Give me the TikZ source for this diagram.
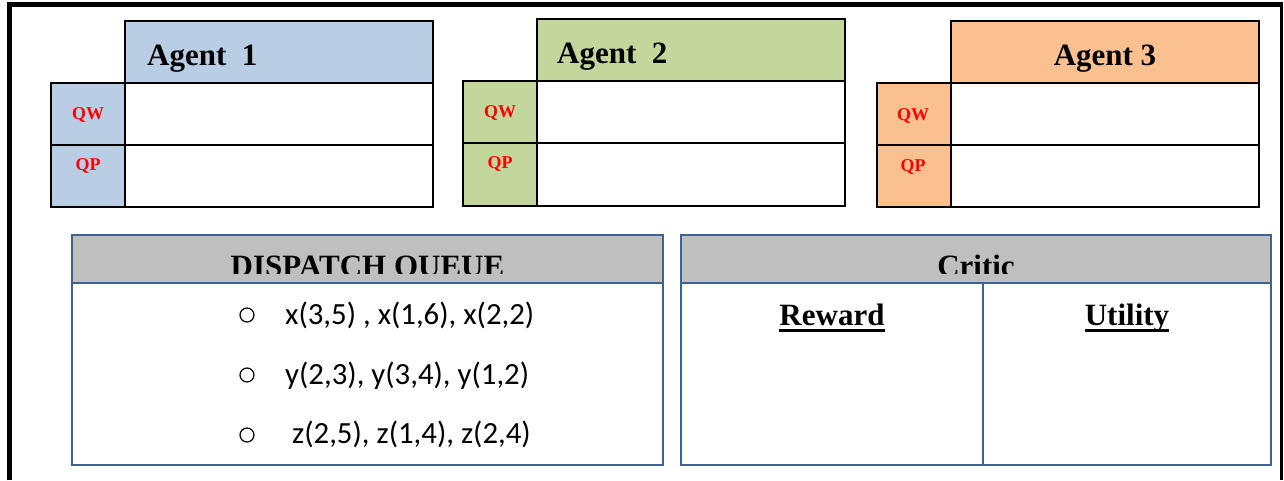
\documentclass[tikz,border=0pt]{standalone}
\usepackage{fontspec}
\setmainfont{Liberation Serif}
\newfontfamily\itemfont{Carlito}
\definecolor{agentblue}{RGB}{185,205,229}
\definecolor{agentgreen}{RGB}{195,214,155}
\definecolor{agentorange}{RGB}{250,192,144}
\definecolor{headgray}{RGB}{191,191,191}
\definecolor{panelblue}{RGB}{62,98,146}
\begin{document}
\begin{tikzpicture}[x=1pt,y=-1pt,
  cell/.style={draw=black,line width=1.8pt},
  panel/.style={draw=panelblue,line width=2pt},
  agenttitle/.style={font=\fontsize{31}{31}\selectfont\bfseries,inner sep=0pt},
  qlabel/.style={font=\fontsize{18}{18}\selectfont\bfseries,text=red,inner sep=0pt},
  headtitle/.style={font=\fontsize{31}{31}\selectfont\bfseries,inner sep=0pt},
  coltitle/.style={font=\fontsize{31}{31}\selectfont\bfseries,inner sep=0pt},
  itemtext/.style={font=\itemfont\fontsize{30.8}{30.8}\selectfont,inner sep=0pt,anchor=base west},
  bullet/.style={draw=black,line width=1.2pt},
  underbar/.style={line width=3.4pt}]
\useasboundingbox (0,0) rectangle (1284,480);
\fill[white] (0,0) rectangle (1284,480);

% outer frame (open at the bottom)
\draw[line width=5pt] (9.5,480) -- (9.5,4.5) -- (1282,4.5);
\draw[line width=2.2pt] (1281.5,2) -- (1281.5,480);

% ---- Agent 1 ----
\filldraw[cell,fill=agentblue] (125,21) rectangle (433,83);
\filldraw[cell,fill=agentblue] (51,83) rectangle (125,207);
\draw[cell] (125,83) rectangle (433,207);
\draw[cell] (51,145) -- (433,145);
\node[agenttitle,anchor=base west] (a1) at (147,65) {Agent\ \ 1};
\node[qlabel] (a1qw) at (88,115) {QW};
\node[qlabel] (a1qp) at (88,166) {QP};

% ---- Agent 2 ----
\filldraw[cell,fill=agentgreen] (537,19) rectangle (845,81);
\filldraw[cell,fill=agentgreen] (463,81) rectangle (537,206);
\draw[cell] (537,81) rectangle (845,206);
\draw[cell] (463,143) -- (845,143);
\node[agenttitle,anchor=base west] (a2) at (557,63) {Agent\ \ 2};
\node[qlabel] (a2qw) at (500,113) {QW};
\node[qlabel] (a2qp) at (500,164) {QP};

% ---- Agent 3 ----
\filldraw[cell,fill=agentorange] (951,21) rectangle (1259,83);
\filldraw[cell,fill=agentorange] (877,83) rectangle (951,207);
\draw[cell] (951,83) rectangle (1259,207);
\draw[cell] (877,145) -- (1259,145);
\node[agenttitle,anchor=base] (a3) at (1105,65) {Agent 3};
\node[qlabel] (a3qw) at (913,116) {QW};
\node[qlabel] (a3qp) at (913,167) {QP};

% ---- Dispatch queue ----
\fill[headgray] (72,235) rectangle (663,283);
\begin{scope}
  \clip (72,235) rectangle (663,273);
  \node[headtitle,anchor=base] (dq) at (367.5,276.5) {DISPATCH QUEUE};
\end{scope}
\draw[panel] (72,235) rectangle (663,465);
\draw[panel] (72,283) -- (663,283);
\draw[bullet] (247,315) circle (7);
\draw[bullet] (247,375) circle (7);
\draw[bullet] (247,435) circle (7);
\node[itemtext] (q1) at (285,324) {x(3,5) , x(1,6), x(2,2)};
\node[itemtext] (q2) at (285,384) {y(2,3), y(3,4), y(1,2)};
\node[itemtext] (q3) at (285,443) {\ z(2,5), z(1,4), z(2,4)};

% ---- Critic ----
\fill[headgray] (681,235) rectangle (1271,283);
\begin{scope}
  \clip (681,235) rectangle (1271,273);
  \node[headtitle,anchor=base] (cr) at (976,276.5) {Critic};
\end{scope}
\draw[panel] (681,235) rectangle (1271,465);
\draw[panel] (681,283) -- (1271,283);
\draw[panel] (983,283) -- (983,465);
\node[coltitle,anchor=base] (rew) at (832,325) {Reward};
\node[coltitle,anchor=base] (uti) at (1127,325) {Utility};
\draw[underbar] ([yshift=-5.5pt]rew.base west) -- ([yshift=-5.5pt]rew.base east);
\draw[underbar] ([yshift=-5.5pt]uti.base west) -- ([yshift=-5.5pt]uti.base east);
\end{tikzpicture}
\end{document}
